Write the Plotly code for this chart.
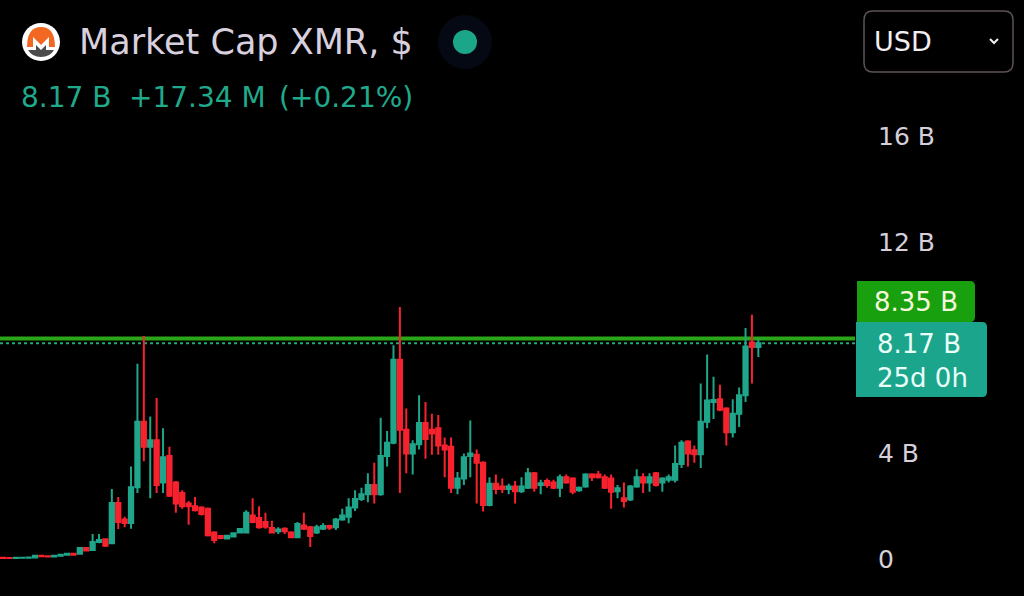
import plotly.graph_objects as go

# ---------------- data (market cap, billions USD) ----------------
opens = [0.05,0.04,0.035,0.045,0.05,0.06,0.12,0.10,0.09,0.12,0.16,0.20,0.20,0.42,0.34,0.64,0.75,0.60,2.12,1.50,
         1.36,2.72,5.20,4.25,4.50,2.90,3.90,2.90,2.50,2.10,2.00,1.95,1.90,1.00,0.87,0.78,0.85,1.00,1.00,1.65,
         1.55,1.40,1.17,1.05,1.15,1.00,0.82,1.27,1.20,1.00,1.15,1.25,1.20,1.50,1.60,1.95,2.27,2.45,2.80,2.45,
         3.90,4.40,7.55,4.90,4.00,4.35,5.15,4.90,4.95,4.30,4.25,2.70,3.05,3.90,3.95,3.65,2.05,2.85,2.75,2.65,
         2.75,2.57,2.70,3.25,2.80,2.95,2.90,2.70,3.10,3.05,2.60,2.75,3.20,3.20,3.10,3.05,2.57,2.30,2.25,2.75,
         3.10,2.90,3.25,2.90,3.00,3.00,3.60,4.45,4.12,3.97,5.20,5.95,6.05,5.70,4.80,5.50,6.20,8.20,8.03]
highs = [0.06,0.05,0.05,0.06,0.07,0.14,0.13,0.12,0.13,0.18,0.24,0.22,0.45,0.45,0.95,0.95,0.78,2.65,2.35,1.60,
         3.50,7.40,8.45,5.40,6.10,4.95,4.25,2.95,2.60,2.20,2.35,2.00,1.95,1.05,0.90,0.90,1.00,1.16,1.85,2.30,
         2.00,1.75,1.45,1.20,1.20,1.05,1.40,1.75,1.25,1.30,1.35,1.30,1.55,1.90,2.30,2.60,2.70,3.25,3.65,5.35,
         4.85,8.10,9.55,5.70,4.50,6.20,5.95,5.50,5.45,4.60,4.60,3.30,4.00,5.25,4.15,3.70,3.10,3.20,3.05,2.85,
         2.95,3.10,3.45,3.30,3.00,3.05,3.00,3.20,3.20,3.10,2.75,3.25,3.25,3.33,3.20,3.20,2.80,2.90,2.80,3.40,
         3.25,3.25,3.30,3.10,3.20,4.30,4.50,4.50,4.30,6.65,7.75,6.90,6.60,5.75,6.05,6.50,8.75,9.25,8.35]
lows = [0.03,0.03,0.03,0.04,0.045,0.055,0.09,0.08,0.085,0.11,0.15,0.14,0.18,0.30,0.32,0.60,0.45,0.58,1.14,1.20,
        1.15,2.50,3.70,2.30,2.50,2.50,2.35,1.75,1.90,1.30,1.80,1.65,0.85,0.60,0.75,0.75,0.83,0.98,0.98,1.35,
        1.15,1.15,0.98,0.95,0.95,0.80,0.80,1.10,0.45,0.95,1.10,1.10,1.10,1.45,1.35,1.82,2.20,2.15,2.10,2.40,
        3.50,4.35,2.50,3.25,3.20,4.15,3.80,3.95,3.95,3.10,2.50,2.45,2.80,3.10,2.10,1.80,2.00,2.45,2.50,2.45,
        2.10,2.50,2.65,2.55,2.45,2.70,2.65,2.35,2.85,2.45,2.55,2.70,2.95,3.05,2.65,1.90,2.30,1.95,2.20,2.70,
        2.50,2.55,2.75,2.55,2.90,2.90,3.45,3.50,3.65,3.45,4.95,5.30,5.60,4.30,4.60,5.00,5.95,6.65,7.65]
closes = [0.04,0.035,0.045,0.05,0.06,0.12,0.10,0.09,0.12,0.16,0.20,0.16,0.42,0.32,0.64,0.72,0.50,2.12,1.40,1.36,
          2.72,5.20,4.25,4.50,2.80,3.85,2.40,2.10,2.00,2.00,1.85,1.70,0.90,0.72,0.80,0.88,0.98,1.14,1.75,1.40,
          1.20,1.22,1.00,1.12,1.05,0.82,1.33,1.15,0.87,1.20,1.25,1.18,1.50,1.65,1.95,2.27,2.45,2.80,2.45,3.90,
          4.40,7.55,4.90,4.00,4.35,5.15,4.55,4.75,4.30,4.15,2.70,3.05,3.85,4.00,3.65,2.05,2.85,2.65,2.65,2.75,
          2.57,2.75,3.25,2.70,2.87,2.80,2.70,3.10,2.90,2.55,2.70,3.20,3.10,3.10,2.70,2.55,2.68,2.20,2.75,3.10,
          2.90,3.10,2.80,3.05,3.10,3.60,4.40,4.00,3.97,5.20,6.00,6.02,5.65,4.80,5.50,6.20,8.05,8.03,8.17]
periods = list(range(len(opens)))

price_ticks = [0, 4, 12, 16]
price_tick_labels = ["0", "4 B", "12 B", "16 B"]
high_level = 8.35
last_level = 8.17
title_text = "Market Cap XMR, $"
change_parts = ["8.17 B", "+17.34 M", "(+0.21%)"]
high_label = "8.35 B"
last_label = "8.17 B"
countdown_label = "25d 0h"
currency = "USD"

# ---------------- styling / layout ----------------
W, H = 1024, 596
PLOT_R = 855          # right edge of plot area in px
UP = "#1fa58a"
DOWN = "#f7222e"
FONT = "DejaVu Sans, sans-serif"

def px(x):
    return x / PLOT_R

def py(y):
    return 1 - y / H

fig = go.Figure()
fig.add_trace(go.Candlestick(
    x=periods, open=opens, high=highs, low=lows, close=closes,
    increasing=dict(line=dict(color=UP, width=2), fillcolor=UP),
    decreasing=dict(line=dict(color=DOWN, width=2), fillcolor=DOWN),
    whiskerwidth=0, hoverinfo="skip", showlegend=False,
))

shapes = []
annotations = []

# level lines
shapes.append(dict(type="line", xref="paper", yref="y", x0=0, x1=1, y0=high_level, y1=high_level,
                   line=dict(color="#2aa618", width=4), layer="below"))
shapes.append(dict(type="line", xref="paper", yref="y", x0=0, x1=1, y0=last_level, y1=last_level,
                   line=dict(color="#22a97a", width=2, dash="dot"), layer="below"))

def rrect(x0, y0, x1, y1, r, fill, line=None, lw=0, left_round=True):
    if left_round:
        d = (f"M {px(x0+r)} {py(y0)} L {px(x1-r)} {py(y0)} Q {px(x1)} {py(y0)} {px(x1)} {py(y0+r)} "
             f"L {px(x1)} {py(y1-r)} Q {px(x1)} {py(y1)} {px(x1-r)} {py(y1)} L {px(x0+r)} {py(y1)} "
             f"Q {px(x0)} {py(y1)} {px(x0)} {py(y1-r)} L {px(x0)} {py(y0+r)} Q {px(x0)} {py(y0)} {px(x0+r)} {py(y0)} Z")
    else:
        d = (f"M {px(x0)} {py(y0)} L {px(x1-r)} {py(y0)} Q {px(x1)} {py(y0)} {px(x1)} {py(y0+r)} "
             f"L {px(x1)} {py(y1-r)} Q {px(x1)} {py(y1)} {px(x1-r)} {py(y1)} L {px(x0)} {py(y1)} Z")
    return dict(type="path", xref="paper", yref="paper", path=d, fillcolor=fill,
                line=dict(color=line if line else fill, width=lw))

def text(x, y, s, size, color, anchor="left"):
    annotations.append(dict(x=px(x), y=py(y), xref="paper", yref="paper", text=s, showarrow=False,
                            font=dict(family=FONT, size=size, color=color),
                            xanchor=anchor, yanchor="middle"))

# price badges
shapes.append(rrect(857, 281, 975, 322, 5, "#18a00f", left_round=False))
shapes.append(rrect(856, 322, 987, 397, 5, "#1ba58c", left_round=False))
text(916, 302, high_label, 26, "#f4f6dc", "center")
text(875, 344, last_label, 26, "#eafff7")
text(875, 378, countdown_label, 26, "#eafff7")

# header: logo
shapes.append(dict(type="circle", xref="paper", yref="paper", x0=px(22), x1=px(60), y0=py(23), y1=py(61),
                   fillcolor="#ffffff", line=dict(width=0)))
orange = (f"M {px(27)} {py(47)} Q {px(27)} {py(27)} {px(41)} {py(27)} Q {px(55)} {py(27)} {px(55)} {py(47)} "
          f"L {px(49)} {py(47)} L {px(49)} {py(37)} L {px(41)} {py(45)} L {px(33)} {py(37)} L {px(33)} {py(47)} Z")
shapes.append(dict(type="path", xref="paper", yref="paper", path=orange, fillcolor="#f26822", line=dict(width=0)))
grey = (f"M {px(28)} {py(50)} L {px(36)} {py(50)} L {px(36)} {py(45)} L {px(41)} {py(50)} L {px(46)} {py(45)} "
        f"L {px(46)} {py(50)} L {px(54)} {py(50)} Q {px(50)} {py(57)} {px(41)} {py(57)} Q {px(32)} {py(57)} {px(28)} {py(50)} Z")
shapes.append(dict(type="path", xref="paper", yref="paper", path=grey, fillcolor="#4c4c4c", line=dict(width=0)))

# status dot
shapes.append(dict(type="circle", xref="paper", yref="paper", x0=px(438), x1=px(492), y0=py(15), y1=py(69),
                   fillcolor="#050914", line=dict(width=0)))
shapes.append(dict(type="circle", xref="paper", yref="paper", x0=px(453), x1=px(477), y0=py(30), y1=py(54),
                   fillcolor="#1ba68a", line=dict(width=0)))

text(77, 42, title_text, 35, "#d8d0de")
for xpos, part in zip([19, 127, 277], change_parts):
    text(xpos, 97, part, 28, "#20a98b")

# currency dropdown
shapes.append(rrect(864, 11, 1013, 72, 9, "rgba(0,0,0,0)", line="#5c5258", lw=1.5))
text(872, 42, currency, 27, "#f2eef2")
shapes.append(dict(type="path", xref="paper", yref="paper",
                   path=f"M {px(990)} {py(39)} L {px(994)} {py(43)} L {px(998)} {py(39)}",
                   line=dict(color="#f2eef2", width=2)))

fig.update_layout(
    width=W, height=H,
    margin=dict(l=0, r=W - PLOT_R, t=0, b=0),
    paper_bgcolor="#000000", plot_bgcolor="#000000",
    boxgap=0.05,
    shapes=shapes, annotations=annotations,
    xaxis=dict(range=[-0.47, 133.1], visible=False, rangeslider=dict(visible=False), fixedrange=True),
    yaxis=dict(range=[-37 / 26.4, 559 / 26.4], side="right", showgrid=False, zeroline=False,
               tickvals=price_ticks, ticktext=price_tick_labels, ticks="", showline=False,
               tickfont=dict(family=FONT, size=25, color="#d6cfda"), ticklabelstandoff=22,
               fixedrange=True),
    hovermode=False,
)

fig.write_html("out.html", config={"displayModeBar": False},
               post_script="document.body.style.margin='0';document.body.style.background='#000';")
